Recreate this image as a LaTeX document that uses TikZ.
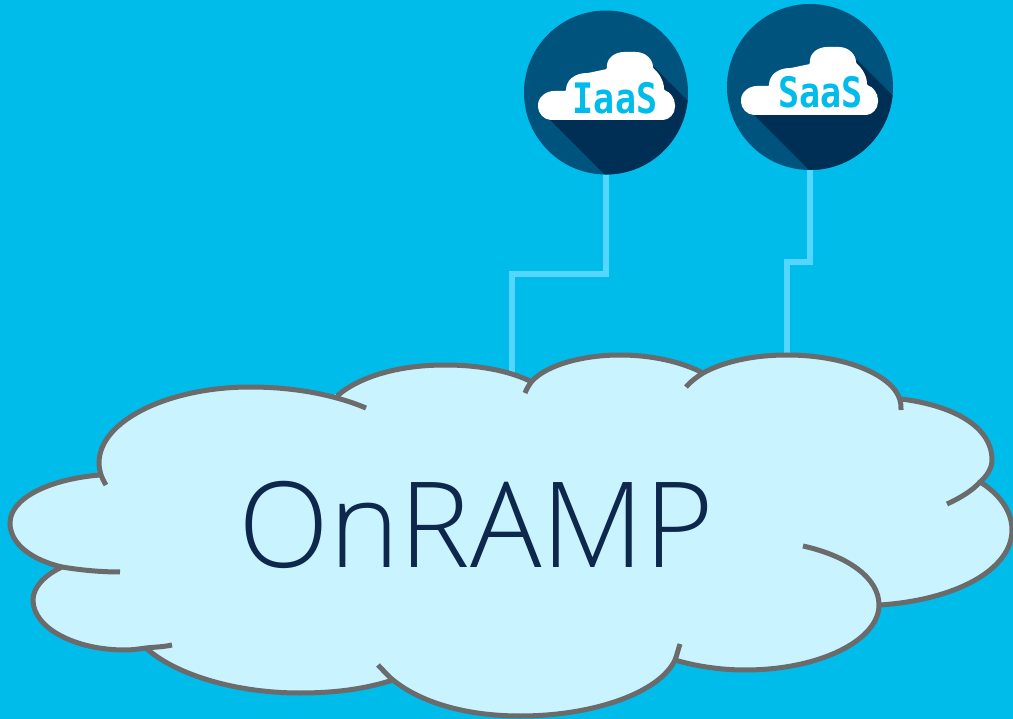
\documentclass[tikz,border=0pt]{standalone}
\usepackage{fontspec}
\setmainfont{Open Sans Light}
\newfontfamily\iconfont{DejaVu Sans Mono}
\definecolor{skyback}{HTML}{00BCEB}
\definecolor{cloudfill}{HTML}{C8F3FF}
\definecolor{cloudline}{HTML}{6B6B6B}
\definecolor{linkblue}{HTML}{55D6FF}
\definecolor{icondisc}{HTML}{00537C}
\definecolor{iconshadow}{HTML}{002F55}
\definecolor{labelnavy}{HTML}{0D274D}
\tikzset{
	icondot/.style={circle, fill=icondisc, minimum size=#1, inner sep=0pt},
	iconlabel/.style={color=skyback, inner sep=0pt, anchor=base, yscale=1.2, font=\iconfont\bfseries\fontsize{35}{35}\selectfont},
	link/.style={color=linkblue, line width=5.5pt},
	lobe/.style={color=cloudline, line width=5pt}
}
% Lobulos de la nube
\newcommand{\cloudoutline}{
	(106,485) .. controls (101,477) and (99,470) .. (99,463) .. controls (99,420) and (170,387) .. (250,387) .. controls (295,387) and (335,395) .. (366,408)
	(337,396) .. controls (360,376) and (400,365) .. (445,365) .. controls (480,365) and (510,371) .. (532,382)
	(525,393) .. controls (527,388) and (529,385) .. (532,381) .. controls (548,364) and (585,355) .. (620,355) .. controls (652,355) and (682,362) .. (703,373)
	(686,387) .. controls (691,381) and (697,377) .. (703,373) .. controls (725,361) and (755,355) .. (787,355) .. controls (845,355) and (893,375) .. (900,400) .. controls (901,403) and (901,406) .. (901,410)
	(901,399) .. controls (950,405) and (992,425) .. (992,460) .. controls (992,468) and (987,476) .. (980,482) .. controls (972,491) and (960,498) .. (947,504)
	(980,482) .. controls (998,493) and (1012,510) .. (1012,530) .. controls (1012,570) and (955,600) .. (880,605)
	(803,546) .. controls (848,556) and (879,578) .. (879,605) .. controls (879,640) and (820,670) .. (745,670) .. controls (720,670) and (695,666) .. (675,660)
	(680,644) .. controls (678,650) and (677,655) .. (675,660) .. controls (660,692) and (595,716) .. (520,716) .. controls (465,716) and (420,702) .. (393,680) .. controls (387,675) and (383,670) .. (378,665)
	(393,680) .. controls (365,689) and (335,693) .. (300,693) .. controls (230,693) and (172,672) .. (146,648)
	(172,645) .. controls (163,647) and (155,647) .. (146,648) .. controls (139,649) and (132,650) .. (125,650) .. controls (75,650) and (33,628) .. (33,600) .. controls (33,587) and (45,575) .. (62,567)
	(100,475) .. controls (50,479) and (10,498) .. (10,523) .. controls (10,544) and (32,560) .. (62,567) .. controls (80,570) and (100,572) .. (120,572)
}
% Nube blanca del icono
\newcommand{\iconcloud}{
	(552,120) .. controls (544,120) and (538,113) .. (538,106) .. controls (538,97) and (546,91) .. (555,91) -- (566,91)
	.. controls (566,80) and (575,73) .. (588,73) -- (607,69) .. controls (606,58) and (615,52) .. (625,52) -- (635,52)
	.. controls (646,52) and (653,60) .. (653,68) .. controls (660,74) and (664,82) .. (664,90)
	.. controls (670,92) and (675,98) .. (675,106) .. controls (675,114) and (669,120) .. (662,120) -- cycle
}
\begin{document}
\begin{tikzpicture}[x=1pt, y=-1pt]
	\useasboundingbox (0,0) rectangle (1013,719);
	\fill[color=skyback] (0,0) rectangle (1013,719);

	% Iconos
	\node[icondot=164pt] (iaas) at (606,92.5) {};
	\node[icondot=166pt] (saas) at (810,87) {};
	\begin{scope}
		\clip (606,92.5) circle (82);
		\fill[color=iconshadow] (550,120) -- (610,180) -- (700,180) -- (700,113) -- (653,66) -- cycle;
	\end{scope}
	\begin{scope}
		\clip (810,87) circle (83);
		\fill[color=iconshadow] (754,115) -- (814,175) -- (900,175) -- (900,103) -- (857,60) -- cycle;
	\end{scope}
	\fill[color=white, rounded corners=1pt] \iconcloud;
	\begin{scope}[shift={(203,-5)}]
		\fill[color=white, rounded corners=1pt] \iconcloud;
	\end{scope}
	\node[iconlabel] (iaaslabel) at (615,114) {IaaS};
	\node[iconlabel] (saaslabel) at (820.5,108) {SaaS};

	% Enlaces hacia la nube
	\coordinate (iaasbend) at (512,274);
	\coordinate (iaasend) at (512,376);
	\coordinate (saasbend) at (787,262);
	\coordinate (saasend) at (787,356);
	\draw[link] (iaas.south) |- (iaasbend) -- (iaasend);
	\draw[link] (saas.south) |- (saasbend) -- (saasend);

	% Nube
	\fill[color=cloudfill] \cloudoutline;
	\filldraw[color=cloudfill, line width=4pt] (100,475) -- (337,396) -- (532,382) -- (703,373) -- (901,399) -- (980,482) -- (880,605) -- (675,660) -- (393,680) -- (146,648) -- (62,567) -- cycle;
	\draw[lobe] \cloudoutline;

	\node[color=labelnavy, anchor=base, inner sep=0pt, font=\fontsize{119}{119}\selectfont] (onramp) at (476,567) {OnRAMP};
\end{tikzpicture}
\end{document}
